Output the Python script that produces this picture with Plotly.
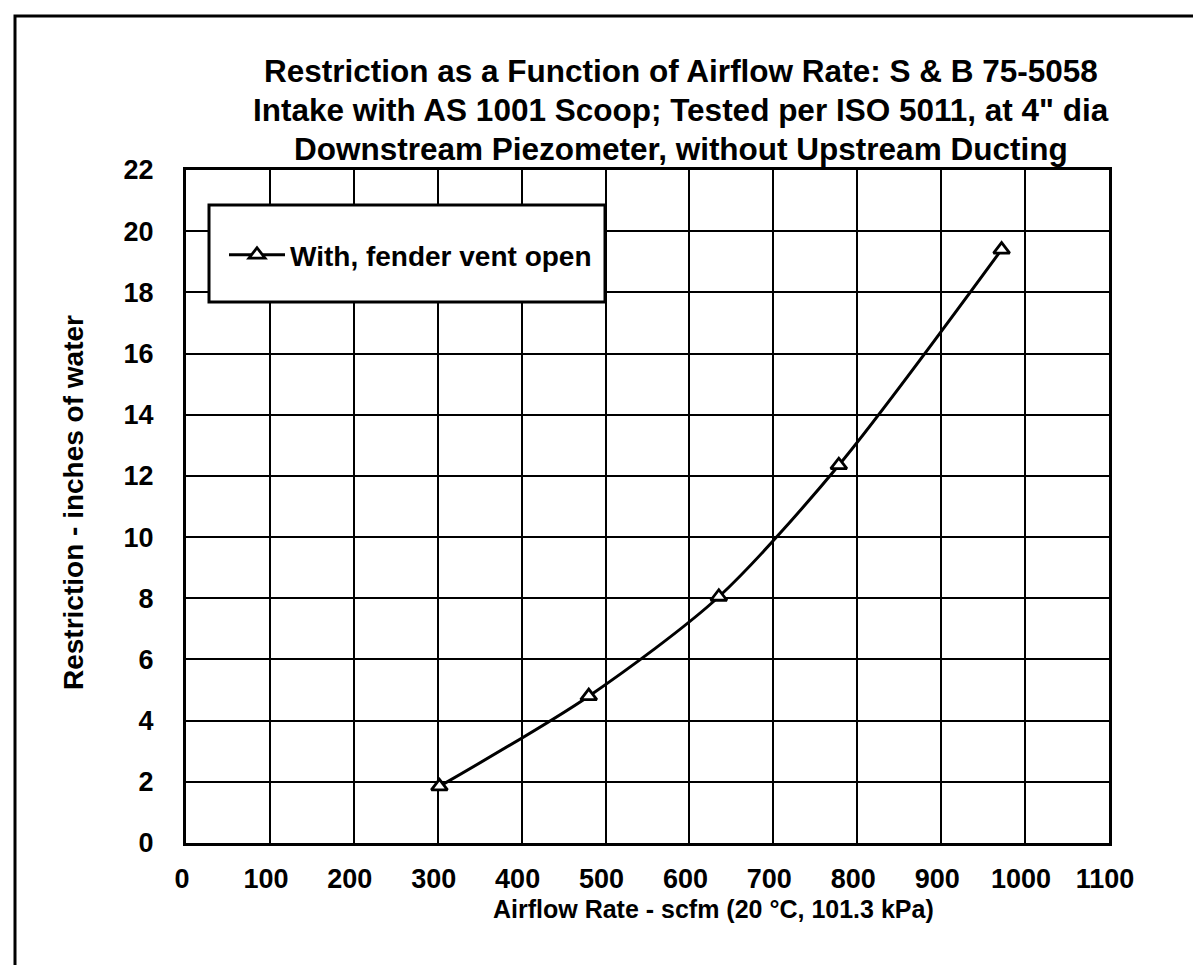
import plotly.graph_objects as go

# Data
airflow = [302, 480, 635, 778, 972]
restriction = [1.85, 4.8, 8.05, 12.35, 19.4]
series_name = "With, fender vent open"
x_ticks = [0, 100, 200, 300, 400, 500, 600, 700, 800, 900, 1000, 1100]
y_ticks = [0, 2, 4, 6, 8, 10, 12, 14, 16, 18, 20, 22]

title_lines = [
    "Restriction as a Function of Airflow Rate: S & B 75-5058",
    "Intake with AS 1001 Scoop; Tested per ISO 5011, at 4\" dia",
    "Downstream Piezometer, without Upstream Ducting",
]
x_title = "Airflow Rate - scfm (20 °C, 101.3 kPa)"
y_title = "Restriction - inches of water"

FONT = "Liberation Sans, Arial, sans-serif"
W, H = 1201, 965
L, R, T, B = 178, 1101, 162, 835

def px(x):
    return (x - L) / (R - L)

def py(y):
    return (B - y) / (B - T)

fig = go.Figure()
fig.add_trace(go.Scatter(
    x=airflow, y=restriction, name=series_name, mode="lines+markers",
    line=dict(color="black", width=3, shape="spline", smoothing=0.8),
    marker=dict(symbol="triangle-up", size=14, color="white",
                line=dict(color="black", width=2.8)),
))

axis_common = dict(
    showgrid=True, gridcolor="black", gridwidth=2,
    showline=True, linecolor="black", linewidth=3, mirror=True,
    zeroline=False, ticks="",
    tickfont=dict(family=FONT, size=27, color="black", weight="bold"),
)

fig.update_xaxes(range=[0, 1100], tickvals=x_ticks, ticklabelstandoff=10,
                 ticklabelshift=-4, **axis_common)
fig.update_yaxes(range=[0, 22], tickvals=y_ticks, ticklabelstandoff=24,
                 **axis_common)

annotations = []
title_y = [63, 102, 141]
for line, ty in zip(title_lines, title_y):
    annotations.append(dict(
        text=f"<b>{line}</b>", x=px(673), y=py(ty),
        xref="paper", yref="paper", xanchor="center", yanchor="middle",
        showarrow=False, font=dict(family=FONT, size=31.5, color="black")))
annotations += [
    dict(text=f"<b>{x_title}</b>", x=px(705), y=py(901), xref="paper", yref="paper",
         xanchor="center", yanchor="middle", showarrow=False,
         font=dict(family=FONT, size=25, color="black")),
    dict(text=f"<b>{y_title}</b>", x=px(65), y=py(495), xref="paper", yref="paper",
         xanchor="center", yanchor="middle", showarrow=False, textangle=-90,
         font=dict(family=FONT, size=28, color="black")),
]

shapes = [
    # legend box
    dict(type="rect", xref="paper", yref="paper",
         x0=px(201), x1=px(597), y0=py(294), y1=py(197),
         line=dict(color="black", width=3), fillcolor="white", layer="above"),
    # outer frame (left and top visible)
    dict(type="rect", xref="paper", yref="paper",
         x0=px(7), x1=px(1400), y0=py(1200), y1=py(8),
         line=dict(color="black", width=3), fillcolor="rgba(0,0,0,0)"),
]

fig.update_layout(
    width=W, height=H,
    margin=dict(l=L, r=W - R, t=T, b=H - B),
    paper_bgcolor="white", plot_bgcolor="white",
    showlegend=True,
    legend=dict(x=px(216), y=py(247), xanchor="left", yanchor="middle",
                itemwidth=56,
                bgcolor="rgba(0,0,0,0)", borderwidth=0,
                font=dict(family=FONT, size=28, color="black", weight="bold")),
    annotations=annotations,
    shapes=shapes,
)

fig.write_html("out.html")
